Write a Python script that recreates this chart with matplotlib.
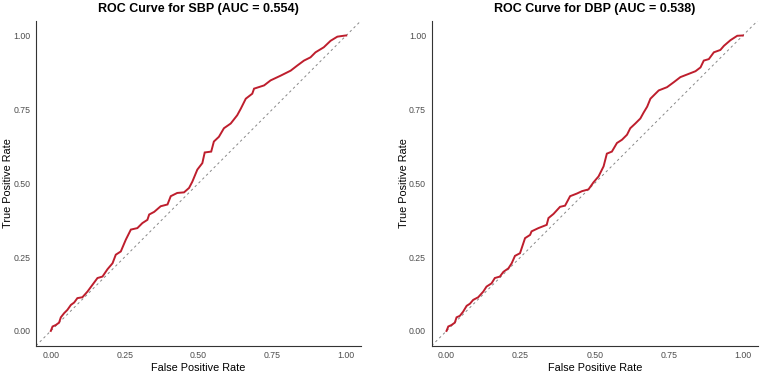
import numpy as np
import matplotlib
matplotlib.use("Agg")
import matplotlib.pyplot as plt

plt.rcParams["font.family"] = ["Liberation Sans", "DejaVu Sans"]

# ROC points (false positive rate, true positive rate)
sbp_fpr = [0, 0.006, 0.017, 0.028, 0.034, 0.045, 0.056, 0.068, 0.079, 0.09,
           0.107, 0.124, 0.141, 0.158, 0.175, 0.192, 0.209, 0.22, 0.237, 0.254,
           0.271, 0.293, 0.31, 0.327, 0.333, 0.35, 0.372, 0.395, 0.406, 0.428,
           0.451, 0.468, 0.479, 0.496, 0.513, 0.521, 0.543, 0.552, 0.569, 0.586,
           0.609, 0.631, 0.643, 0.66, 0.682, 0.688, 0.722, 0.744, 0.778, 0.812,
           0.834, 0.857, 0.879, 0.896, 0.924, 0.947, 0.97, 0.998, 1.0]
sbp_tpr = [0, 0.015, 0.02, 0.028, 0.046, 0.06, 0.071, 0.088, 0.096, 0.111,
           0.114, 0.133, 0.156, 0.179, 0.184, 0.209, 0.229, 0.258, 0.269, 0.309,
           0.343, 0.348, 0.365, 0.376, 0.394, 0.403, 0.422, 0.428, 0.456, 0.467,
           0.469, 0.484, 0.505, 0.546, 0.568, 0.604, 0.607, 0.641, 0.657, 0.686,
           0.702, 0.73, 0.752, 0.786, 0.803, 0.82, 0.831, 0.848, 0.864, 0.881,
           0.898, 0.915, 0.926, 0.943, 0.96, 0.982, 0.996, 1.0, 1.0]

dbp_fpr = [0, 0.006, 0.017, 0.028, 0.034, 0.045, 0.056, 0.068, 0.079, 0.09,
           0.107, 0.124, 0.135, 0.152, 0.163, 0.18, 0.192, 0.209, 0.22, 0.231,
           0.248, 0.265, 0.282, 0.287, 0.31, 0.338, 0.344, 0.361, 0.383, 0.4,
           0.417, 0.44, 0.457, 0.479, 0.496, 0.513, 0.53, 0.541, 0.558, 0.575,
           0.592, 0.609, 0.62, 0.637, 0.654, 0.665, 0.677, 0.688, 0.699, 0.716,
           0.744, 0.767, 0.789, 0.812, 0.84, 0.857, 0.868, 0.885, 0.902, 0.924,
           0.936, 0.958, 0.981, 1.0]
dbp_tpr = [0, 0.015, 0.02, 0.028, 0.046, 0.051, 0.065, 0.085, 0.092, 0.105,
           0.114, 0.133, 0.15, 0.161, 0.179, 0.184, 0.2, 0.212, 0.229, 0.254,
           0.263, 0.314, 0.325, 0.337, 0.348, 0.359, 0.382, 0.396, 0.42, 0.424,
           0.456, 0.465, 0.473, 0.479, 0.503, 0.523, 0.557, 0.6, 0.607, 0.636,
           0.647, 0.664, 0.686, 0.702, 0.719, 0.739, 0.759, 0.786, 0.797, 0.814,
           0.825, 0.842, 0.859, 0.868, 0.879, 0.892, 0.915, 0.92, 0.943, 0.951,
           0.965, 0.984, 0.999, 1.0]

titles = ["ROC Curve for SBP (AUC = 0.554)", "ROC Curve for DBP (AUC = 0.538)"]
ticks = [0, 0.25, 0.5, 0.75, 1.0]
tick_labels = ["0.00", "0.25", "0.50", "0.75", "1.00"]

fig = plt.figure(figsize=(7.6, 3.73), dpi=100)
ax1 = fig.add_axes([0.0474, 0.0732, 0.4276, 0.8713])
ax2 = fig.add_axes([0.568, 0.0732, 0.429, 0.8713])

for ax, fpr, tpr, title in zip([ax1, ax2], [sbp_fpr, dbp_fpr],
                               [sbp_tpr, dbp_tpr], titles):
    ax.axline((0, 0), slope=1, color="#888888", lw=0.7, ls=(0, (2.5, 3)))
    ax.plot(fpr, tpr, color="#BE1E2D", lw=1.4, solid_joinstyle="miter")
    ax.set_xlim(-0.05, 1.05)
    ax.set_ylim(-0.05, 1.05)
    ax.set_xticks(ticks)
    ax.set_xticklabels(tick_labels)
    ax.set_yticks(ticks)
    ax.set_yticklabels(tick_labels)
    ax.tick_params(length=0, labelsize=6.3, labelcolor="#4D4D4D", pad=4)
    for side in ["top", "right"]:
        ax.spines[side].set_visible(False)
    for side in ["left", "bottom"]:
        ax.spines[side].set_color("#333333")
        ax.spines[side].set_linewidth(0.8)
    ax.set_xlabel("False Positive Rate", fontsize=7.8, labelpad=2)
    ax.set_ylabel("True Positive Rate", fontsize=7.8)
    ax.yaxis.set_label_coords(-0.071, 0.5)
    ax.set_title(title, fontsize=9, fontweight="bold", pad=6)

fig.savefig("out.png", dpi=100)
